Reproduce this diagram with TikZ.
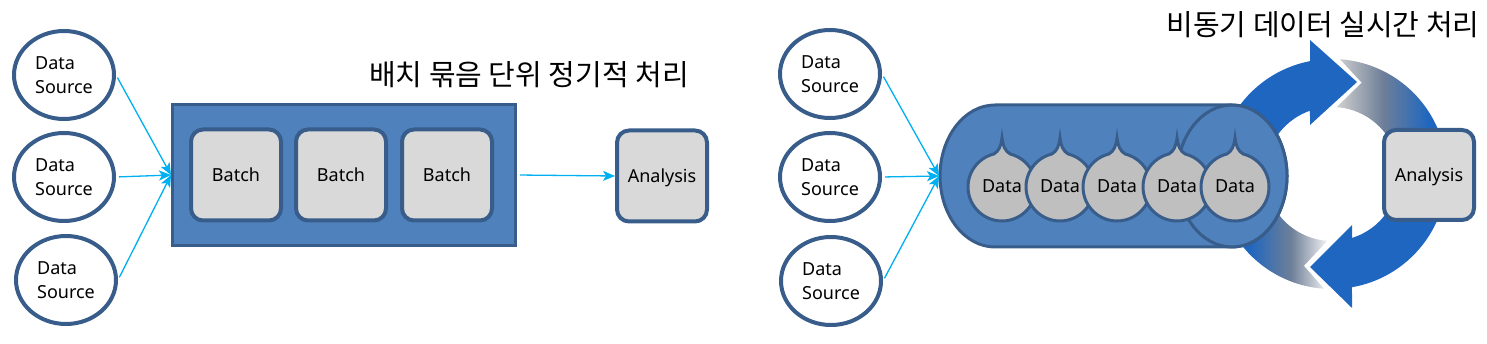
\documentclass[tikz,border=0pt]{standalone}
\usepackage{fontspec}
\setmainfont{Noto Sans}
\newfontfamily\kfont{Noto Sans CJK KR}
\usetikzlibrary{arrows.meta,shapes.geometric}
\definecolor{srcline}{HTML}{385D8A}
\definecolor{boxblue}{HTML}{4F81BD}
\definecolor{cellgray}{HTML}{D9D9D9}
\definecolor{dropgray}{HTML}{BFBFBF}
\definecolor{flowcyan}{HTML}{00B0F0}
\definecolor{ringblue}{HTML}{1E66C0}
\definecolor{fadelight}{HTML}{D0D0D0}
\definecolor{fademid}{HTML}{6E7F98}
\definecolor{fadewhite}{HTML}{F2F2F2}
\pgfdeclarehorizontalshading{fadeup}{100bp}{color(0bp)=(fadelight); color(25bp)=(fadelight);
  color(45bp)=(fademid); color(65bp)=(ringblue); color(100bp)=(ringblue)}
\pgfdeclarehorizontalshading{fadedown}{100bp}{color(0bp)=(ringblue); color(38bp)=(ringblue);
  color(58bp)=(fademid); color(75bp)=(fadewhite); color(100bp)=(fadewhite)}
\begin{document}
\begin{tikzpicture}[x=1pt,y=1pt,
  every node/.style={font=\fontsize{18}{24}\selectfont,inner sep=0pt,text depth=0pt},
  source/.style={ellipse,draw=srcline,line width=4pt,fill=white,minimum width=100pt,minimum height=88pt,align=left},
  cell/.style={rectangle,rounded corners=12pt,draw=srcline,line width=4pt,fill=cellgray,minimum width=90pt,minimum height=91pt},
  hub/.style={rectangle,draw=srcline,line width=3pt,fill=boxblue,minimum width=343pt,minimum height=141pt},
  flow/.style={draw=flowcyan,line width=1.3pt,shorten <=3pt,-{Stealth[length=12pt,width=10pt,inset=3pt]}},
  drop/.style={fill=dropgray,draw=srcline,line width=3pt},
  pipe/.style={fill=boxblue,draw=srcline,line width=3pt},
  title/.style={font=\kfont\fontsize{29}{32}\selectfont}]
  \useasboundingbox (0,0) rectangle (1487,-344);
  % batch side
  \node[source] (s1) at (64,-75) {Data\\Source};
  \node[source] (s2) at (64,-177) {Data\\Source};
  \node[source] (s3) at (66,-280) {Data\\Source};
  \node[hub] (batchbox) at (344,-175) {};
  \node[cell] (b1) at (236,-175) {Batch};
  \node[cell] (b2) at (341,-175) {Batch};
  \node[cell] (b3) at (447,-175) {Batch};
  \node[cell] (an1) at (662,-176) {Analysis};
  \foreach \s in {s1,s2,s3} \draw[flow] (\s.east) -- (batchbox.west);
  \draw[flow] (batchbox.east) -- (an1.west);
  \node[title] (batchtitle) at (529,-74) {배치 묶음 단위 정기적 처리};
  % stream side
  \fill[ringblue] ([shift={(1332,-174)}]190:115) arc[start angle=190,end angle=101,radius=115]
    -- (1310,-40) -- (1357,-82) -- (1310,-125) -- ([shift={(1332,-174)}]109.2:67)
    arc[start angle=109.2,end angle=190,radius=67] -- cycle;
  \shade[shading=fadeup]
    ([shift={(1332,-174)}]86:115) -- ([shift={(1332,-174)}]72:96) -- ([shift={(1332,-174)}]86:67)
    arc[start angle=86,end angle=-10,radius=67] -- ([shift={(1332,-174)}]-10:115)
    arc[start angle=-10,end angle=86,radius=115] -- cycle;
  \fill[ringblue] ([shift={(1332,-174)}]10:115) arc[start angle=10,end angle=-80,radius=115]
    -- (1352,-308) -- (1310,-267) -- (1352,-225) -- ([shift={(1332,-174)}]-72.6:67)
    arc[start angle=-72.6,end angle=10,radius=67] -- cycle;
  \shade[shading=fadedown]
    ([shift={(1332,-174)}]-94:115) -- ([shift={(1332,-174)}]-107:96) -- ([shift={(1332,-174)}]-94:67)
    arc[start angle=-94,end angle=-165,radius=67] -- ([shift={(1332,-174)}]-165:115)
    arc[start angle=-165,end angle=-94,radius=115] -- cycle;
  \filldraw[pipe] (1232,-105) -- (995,-105) arc[start angle=90,end angle=270,x radius=55,y radius=71]
    -- (1232,-247) arc[start angle=-90,end angle=90,x radius=55,y radius=71] -- cycle;
  \filldraw[pipe] (1232,-176) ellipse[x radius=55,y radius=71];
  \coordinate (pipein) at (939,-176);
  \foreach \x [count=\i] in {1002,1060,1117,1177,1235} {
    \filldraw[drop] (\x,-138) .. controls (\x-1,-146) and (\x-3,-151) .. ([shift={(\x,-187)}]104:34)
      arc[start angle=104,end angle=436,radius=34] .. controls (\x+3,-151) and (\x+1,-146) .. (\x,-138) -- cycle;
    \node (d\i) at (\x,-186) {Data};
  }
  \node[cell,minimum height=90pt] (an2) at (1429,-175) {Analysis};
  \node[source] (r1) at (830,-74) {Data\\Source};
  \node[source] (r2) at (830,-177) {Data\\Source};
  \node[source] (r3) at (831,-281) {Data\\Source};
  \foreach \r in {r1,r2,r3} \draw[flow] (\r.east) -- (pipein);
  \node[title] (streamtitle) at (1323,-24) {비동기 데이터 실시간 처리};
\end{tikzpicture}
\end{document}
